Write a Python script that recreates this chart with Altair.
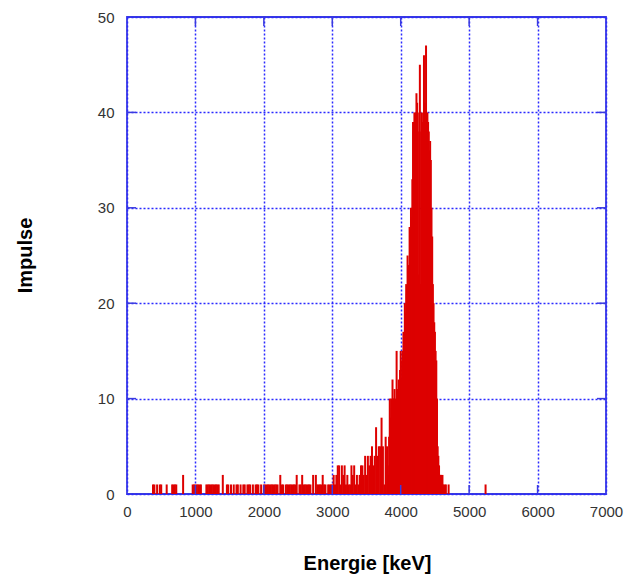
import altair as alt
import pandas as pd

# ---- data (keV bins, counts) ----
# sparse low-energy region
sparse_energy = [380, 400, 440, 480, 500, 580, 660, 680, 700, 720, 820,
                 960, 980, 1000, 1020, 1040, 1060, 1080, 1160, 1180, 1200, 1220,
                 1240, 1260, 1280, 1300, 1320, 1340, 1400, 1460, 1480, 1520, 1560,
                 1600, 1620, 1660, 1700, 1720, 1760, 1780, 1800, 1840, 1880, 1900,
                 1920, 1960, 2000, 2020, 2040, 2060, 2080, 2100, 2120, 2140, 2160,
                 2180, 2200, 2240, 2260, 2280, 2320, 2340, 2360, 2380, 2400, 2420,
                 2440, 2460, 2480, 2520, 2540, 2560, 2580, 2600, 2620, 2640, 2660,
                 2680, 2720, 2760, 2780, 2800, 2820, 2840, 2860, 2880, 2900, 2940,
                 2960, 2980, 5240]
sparse_count = [1, 1, 1, 1, 1, 1, 1, 1, 1, 1, 2,
                1, 1, 1, 1, 1, 1, 1, 1, 1, 1, 1,
                1, 1, 1, 1, 1, 1, 2, 1, 1, 1, 1,
                1, 1, 1, 1, 1, 1, 1, 1, 1, 1, 1,
                1, 1, 1, 1, 1, 1, 1, 1, 1, 1, 1,
                1, 1, 2, 1, 1, 1, 1, 1, 1, 1, 1,
                1, 1, 2, 1, 1, 2, 1, 1, 1, 1, 1,
                1, 2, 2, 1, 1, 1, 1, 2, 1, 1, 1,
                1, 1, 1]

# rising region 3000-3780 keV, 20 keV bins
rise_start, rise_step = 3000, 20
rise_count = [1, 2, 1, 2, 3, 3, 1, 3, 2, 3,
              1, 2, 1, 1, 3, 2, 3, 1, 2, 1,
              2, 3, 3, 2, 4, 2, 4, 3, 4, 5,
              3, 4, 7, 4, 5, 5, 8, 5, 1, 6]

# peak region 3800-4700 keV, 10 keV bins
peak_start, peak_step = 3800, 10
peak_count = [5, 3, 2, 6, 10, 8, 10, 9, 12, 10,
              10, 11, 9, 10, 15, 11, 10, 12, 11, 13,
              15, 12, 14, 15, 17, 16, 20, 19, 22, 21,
              25, 22, 24, 28, 27, 30, 29, 33, 39, 38,
              40, 39, 40, 42, 41, 38, 23, 40, 45, 22,
              38, 40, 39, 23, 46, 41, 40, 47, 24, 40,
              39, 38, 36, 37, 35, 30, 27, 22, 20, 18,
              17, 15, 14, 10, 5, 4, 3, 2, 2, 2,
              1, 2, 1, 0, 1, 0, 1, 0, 0, 0,
              1]

x_ticks = [0, 1000, 2000, 3000, 4000, 5000, 6000, 7000]
y_ticks = [0, 10, 20, 30, 40, 50]

# ---- assemble ----
energy = list(sparse_energy)
count = list(sparse_count)
energy += [rise_start + i * rise_step for i in range(len(rise_count))]
count += rise_count
energy += [peak_start + i * peak_step for i in range(len(peak_count))]
count += peak_count
df = pd.DataFrame({"energy": energy, "count": count})
df = df[df["count"] > 0].copy()
df["base"] = 0

W, H = 479, 477
BLUE = "#3a3ae0"
GRID = "#2a2aff"
FONT = "Liberation Sans"

xs = alt.Scale(domain=[0, 7000], nice=False, zero=False)
ys = alt.Scale(domain=[0, 50], nice=False)

x_axis = alt.Axis(values=x_ticks, format="d", grid=True, gridColor=GRID,
                  gridDash=[2, 2], gridWidth=1.5, ticks=False, domain=False,
                  labelFont=FONT, labelFontSize=15, labelColor="#333333",
                  labelPadding=10, labelFlush=False,
                  title="Energie [keV]", titleFont=FONT, titleFontSize=20,
                  titleFontWeight="bold", titleColor="#000000",
                  titleX=240, titleY=69, titleAlign="center",
                  titleBaseline="middle")
y_axis = alt.Axis(values=y_ticks, grid=True, gridColor=GRID,
                  gridDash=[2, 2], gridWidth=1.5, ticks=False, domain=False,
                  labelFont=FONT, labelFontSize=15, labelColor="#333333",
                  labelPadding=13, labelFlush=False,
                  title="Impulse", titleFont=FONT, titleFontSize=20,
                  titleFontWeight="bold", titleColor="#000000",
                  titleAngle=270, titleX=-102, titleY=238, titleAlign="center",
                  titleBaseline="middle")

spikes = alt.Chart(df).mark_rule(color="#dd0000", strokeWidth=2).encode(
    x=alt.X("energy:Q", scale=xs, axis=x_axis, title="Energie [keV]"),
    y=alt.Y("count:Q", scale=ys, axis=y_axis, title="Impulse"),
    y2="base:Q",
)

xt = pd.DataFrame({"energy": x_ticks[1:-1]})
yt = pd.DataFrame({"count": y_ticks[1:-1]})

tick_b = alt.Chart(xt).mark_rule(color=BLUE, strokeWidth=1.5).encode(
    x=alt.X("energy:Q", scale=xs, axis=x_axis, title="Energie [keV]"),
    y=alt.value(H), y2=alt.value(H - 9))
tick_t = alt.Chart(xt).mark_rule(color=BLUE, strokeWidth=1.5).encode(
    x=alt.X("energy:Q", scale=xs, axis=x_axis, title="Energie [keV]"),
    y=alt.value(0), y2=alt.value(9))
tick_l = alt.Chart(yt).mark_rule(color=BLUE, strokeWidth=1.5).encode(
    y=alt.Y("count:Q", scale=ys, axis=y_axis, title="Impulse"),
    x=alt.value(0), x2=alt.value(9))
tick_r = alt.Chart(yt).mark_rule(color=BLUE, strokeWidth=1.5).encode(
    y=alt.Y("count:Q", scale=ys, axis=y_axis, title="Impulse"),
    x=alt.value(W), x2=alt.value(W - 9))

chart = alt.layer(spikes, tick_b, tick_t, tick_l, tick_r).properties(
    width=W, height=H,
    autosize=alt.AutoSizeParams(type="none"),
    padding={"left": 127, "top": 17, "right": 20, "bottom": 91},
    background="white",
).configure_view(stroke=BLUE, strokeWidth=1.8)

chart.save("out.html", embed_options={"renderer": "svg", "actions": False})
